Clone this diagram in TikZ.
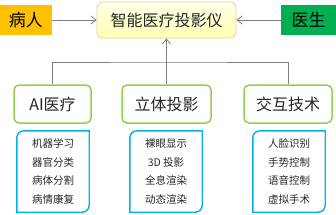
\documentclass[tikz,border=0pt]{standalone}
\usepackage{fontspec}
\setmainfont{Noto Sans CJK SC}
\usepackage{xcolor}
\usetikzlibrary{positioning,arrows.meta,calc}
\definecolor{txtgray}{HTML}{262626}
\definecolor{linegray}{HTML}{7F7F7F}
\definecolor{patorange}{HTML}{FFC000}
\definecolor{docgreen}{HTML}{00B050}
\definecolor{leafgreen}{HTML}{92D050}
\definecolor{listblue}{HTML}{00B0F0}
\definecolor{devborder}{HTML}{D8D89C}

\begin{document}
\begin{tikzpicture}[
    x=1pt, y=-1pt,
    role/.style={rectangle, inner sep=0pt, minimum height=30pt, text=black,
                 font=\fontsize{17}{20}\selectfont},
    device/.style={rectangle, rounded corners=5pt, draw=devborder, line width=0.8pt,
                   top color=yellow!8, bottom color=yellow!30,
                   minimum width=139pt, minimum height=36pt, text=txtgray,
                   font=\fontsize{16}{19}\selectfont},
    branch/.style={rectangle, rounded corners=5pt, draw=leafgreen, line width=1.5pt,
                   fill=white, minimum height=38pt, text=txtgray,
                   font=\fontsize{16}{19}\selectfont},
    itemlist/.style={rectangle, inner sep=0pt, minimum width=72pt, minimum height=81pt,
                     align=center, text=txtgray, font=\fontsize{10.5}{18.5}\selectfont},
    listframe/.style={draw=listblue, line width=1.4pt},
    arrow/.style={-{Straight Barb[length=5pt,width=8pt]}, linegray, line width=0.8pt},
    link/.style={linegray, line width=0.8pt}
]
\useasboundingbox (0,0) rectangle (336,214);

% Top row
\node[device] (dev) at (166.5,20) {智能医疗投影仪};
\node[role, fill=patorange, minimum width=52pt] (pat) at (26,20) {病人};
\node[role, fill=docgreen, minimum width=55pt] (doc) at (308.5,20) {医生};

% Branches
\node[branch, minimum width=77pt] (ai) at (52.5,104) {AI医疗};
\node[branch, minimum width=89pt] (stereo) at (166.5,104) {立体投影};
\node[branch, minimum width=88pt] (inter) at (288,104) {交互技术};

% Item lists
\node[itemlist] (ailist) at (53,171.5) {机器学习\\器官分类\\病体分割\\病情康复};
\node[itemlist] (stereolist) at (166,171.5) {裸眼显示\\3D 投影\\全息渲染\\动态渲染};
\node[itemlist] (interlist) at (289,171.5) {人脸识别\\手势控制\\语音控制\\虚拟手术};

% List frames: round top-left and bottom-right only
\foreach \lst in {ailist,stereolist,interlist}
  \draw[listframe] (\lst.north east) -- (\lst.north)
    [rounded corners=7pt] -- (\lst.north west) [sharp corners] -- (\lst.south west)
    -- (\lst.south) [rounded corners=7pt] -- (\lst.south east) [sharp corners] -- cycle;

% Connectors
\draw[arrow] (pat) -- (dev);
\draw[arrow] (doc) -- (dev);
\coordinate (bar) at (166.5,62);
\draw[link] (ai.north) |- (bar) -| (inter.north);
\draw[arrow] (stereo.north) -- (dev.south);

\end{tikzpicture}
\end{document}
